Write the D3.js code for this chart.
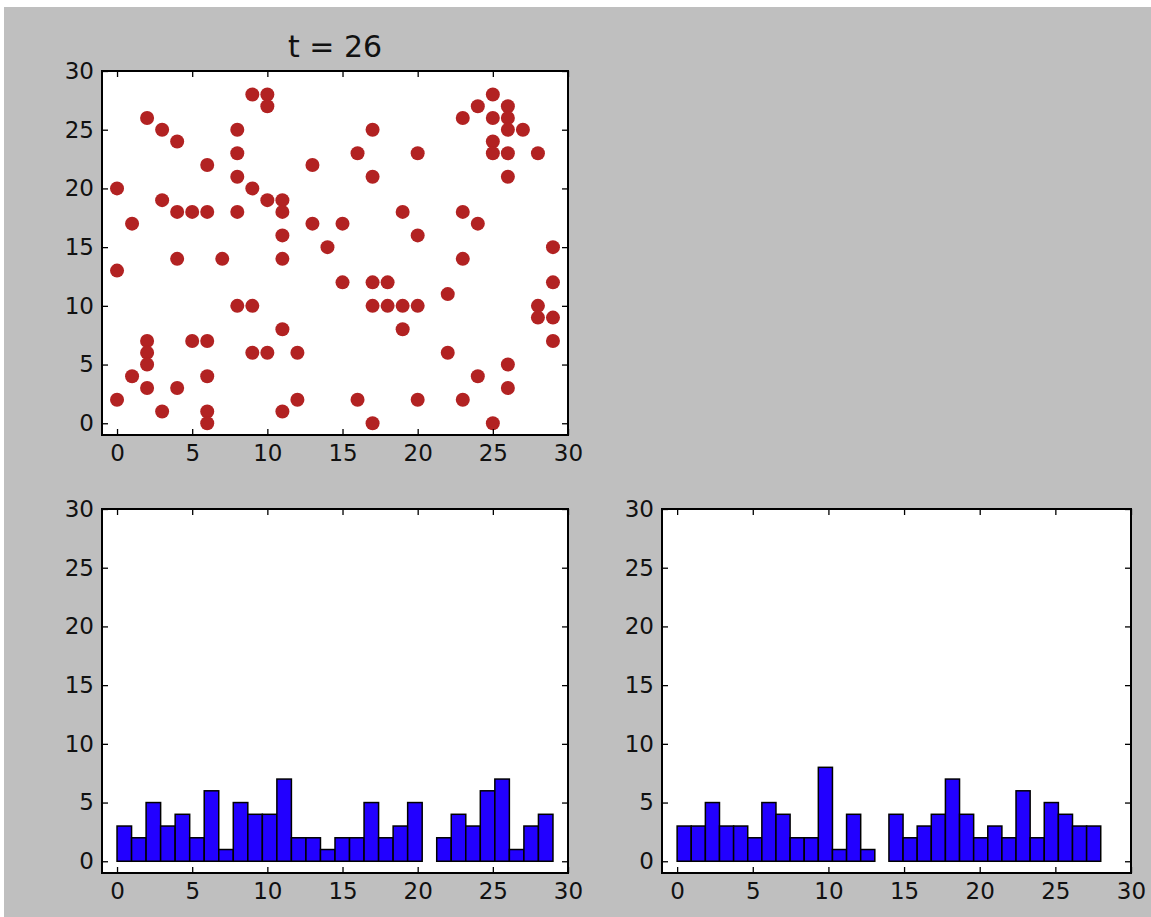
<!DOCTYPE html>
<html><head><meta charset="utf-8">
<script src="https://cdn.jsdelivr.net/npm/d3@7"></script>
<style>
body{margin:0;background:#fff}
text{font-family:"DejaVu Sans",sans-serif}
</style>
</head><body><svg id="c" width="1151" height="917"></svg>
<script>
const title = "t = 26";
const tickValues = [0, 5, 10, 15, 20, 25, 30];
const axisDomain = [-1, 30];

// scatter points (x, y)
const pointsX = [0,0,0, 1,1, 2,2,2,2,2, 3,3,3, 4,4,4,4, 5,5, 6,6,6,6,6,6, 7, 8,8,8,8,8, 9,9,9,9, 10,10,10,10,
  11,11,11,11,11,11, 12,12, 13,13, 14, 15,15, 16,16, 17,17,17,17,17, 18,18, 19,19,19, 20,20,20,20,
  22,22, 23,23,23,23, 24,24,24, 25,25,25,25,25, 26,26,26,26,26,26,26, 27, 28,28,28, 29,29,29,29];
const pointsY = [20,13,2, 17,4, 26,7,6,5,3, 25,19,1, 24,18,14,3, 18,7, 22,18,7,4,1,0, 14, 25,23,21,18,10, 28,20,10,6, 28,27,19,6,
  19,18,16,14,8,1, 6,2, 22,17, 15, 17,12, 23,2, 25,21,12,10,0, 12,10, 18,10,8, 23,16,10,2,
  11,6, 26,18,14,2, 27,17,4, 28,26,24,23,0, 27,26,25,23,21,5,3, 25, 23,10,9, 15,12,9,7];

// histogram of x positions
const histXRange = [0, 29];
const histXCounts = [3,2,5,3,4,2,6,1,5,4,4,7,2,2,1,2,2,5,2,3,5,0,2,4,3,6,7,1,3,4];
// histogram of y positions
const histYRange = [0, 28];
const histYCounts = [3,3,5,3,3,2,5,4,2,2,8,1,4,1,0,4,2,3,4,7,4,2,3,2,6,2,5,4,3,3];

const svg = d3.select("#c");
svg.append("rect").attr("x",4).attr("y",7).attr("width",1147).attr("height",910).attr("fill","#bfbfbf");

const panels = {
  scatter: {x0:102, x1:568, y0:71, y1:435},
  histX:   {x0:102, x1:568, y0:509, y1:873},
  histY:   {x0:662, x1:1131, y0:509, y1:873}
};

function makeAxes(p) {
  const g = svg.append("g");
  g.append("rect").attr("x",p.x0).attr("y",p.y0).attr("width",p.x1-p.x0).attr("height",p.y1-p.y0).attr("fill","#fff");
  const x = d3.scaleLinear().domain(axisDomain).range([p.x0, p.x1]);
  const y = d3.scaleLinear().domain(axisDomain).range([p.y1, p.y0]);
  const plot = g.append("g");
  const deco = g.append("g");
  const style = sel => {
    sel.select(".domain").remove();
    sel.selectAll(".tick line").attr("stroke","#000").attr("stroke-width",1.3);
    sel.selectAll(".tick text").attr("fill","#111").style("font-size","23px").style("font-family","'DejaVu Sans',sans-serif");
  };
  deco.append("g").attr("transform",`translate(0,${p.y1})`)
    .call(d3.axisBottom(x).tickValues(tickValues).tickSize(-6).tickPadding(10)).call(style);
  deco.append("g").attr("transform",`translate(0,${p.y0})`)
    .call(d3.axisTop(x).tickValues(tickValues).tickSize(-6).tickFormat("")).call(style);
  deco.append("g").attr("transform",`translate(${p.x0},0)`)
    .call(d3.axisLeft(y).tickValues(tickValues).tickSize(-6).tickPadding(8)).call(style);
  deco.append("g").attr("transform",`translate(${p.x1},0)`)
    .call(d3.axisRight(y).tickValues(tickValues).tickSize(-6).tickFormat("")).call(style);
  deco.append("rect").attr("x",p.x0).attr("y",p.y0).attr("width",p.x1-p.x0).attr("height",p.y1-p.y0)
    .attr("fill","none").attr("stroke","#000").attr("stroke-width",2);
  return {x, y, plot};
}

// scatter
{
  const a = makeAxes(panels.scatter);
  a.plot.selectAll("circle").data(d3.range(pointsX.length)).join("circle")
    .attr("cx", i => a.x(pointsX[i])).attr("cy", i => a.y(pointsY[i])).attr("r", 7)
    .attr("fill", "#b22222");
  const p = panels.scatter;
  svg.append("text").attr("x",(p.x0+p.x1)/2).attr("y",p.y0-14).attr("text-anchor","middle")
    .style("font-size","30px").attr("fill","#111").text(title);
}

function drawHist(panel, range, counts) {
  const a = makeAxes(panel);
  const n = counts.length, w = (range[1]-range[0])/n;
  a.plot.selectAll("rect").data(counts).join("rect")
    .attr("x", (d,i) => a.x(range[0]+i*w))
    .attr("width", (d,i) => a.x(range[0]+(i+1)*w) - a.x(range[0]+i*w))
    .attr("y", d => a.y(d))
    .attr("height", d => a.y(0) - a.y(d))
    .attr("fill", "#2200ff").attr("stroke", "#000").attr("stroke-width", 1.5)
    .attr("visibility", d => d > 0 ? "visible" : "hidden");
}
drawHist(panels.histX, histXRange, histXCounts);
drawHist(panels.histY, histYRange, histYCounts);
</script>
</body></html>
